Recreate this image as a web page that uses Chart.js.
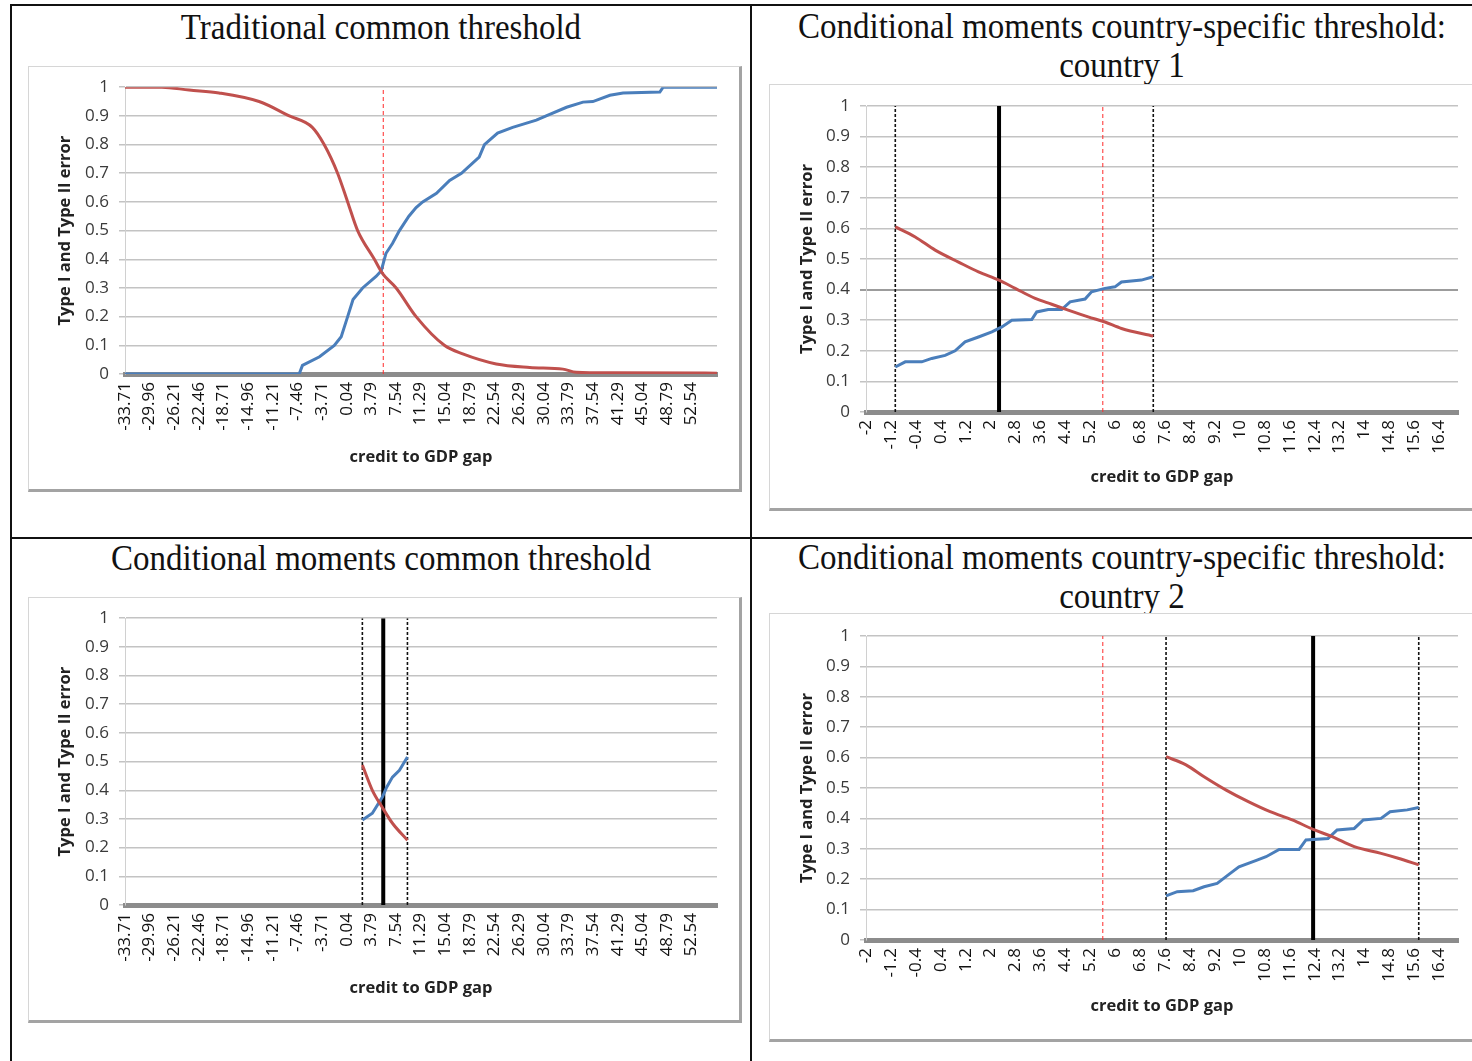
<!DOCTYPE html>
<html>
<head>
<meta charset="utf-8">
<title>Type I and Type II error by threshold</title>
<script src="https://cdn.jsdelivr.net/npm/chart.js@4.4.1/dist/chart.umd.min.js"></script>
<style>
  html, body { margin: 0; padding: 0; background: #fff; }
  body { width: 1472px; height: 1061px; position: relative; overflow: hidden; }
  .rule { position: absolute; background: #111; }
  .title {
    position: absolute; font-family: "Liberation Serif", "Times New Roman", serif;
    font-size: 33px; line-height: 36px; color: #111; text-align: center; white-space: nowrap;
    transform: scale(1, 1.08); transform-origin: 50% 50%;
  }
  .box {
    position: absolute; background: #fff;
    border-left: 1px solid #d6d6d6; border-top: 1px solid #d6d6d6;
    border-right: 3px solid #a3a3a3; border-bottom: 3px solid #a3a3a3;
  }
  .box canvas { display: block; }
</style>
</head>
<body>
  <div class="rule" style="left:10px;top:4px;width:1462px;height:2px"></div>
  <div class="rule" style="left:10px;top:4px;width:2px;height:1057px"></div>
  <div class="rule" style="left:750px;top:4px;width:2px;height:1057px"></div>
  <div class="rule" style="left:10px;top:537px;width:1462px;height:2px"></div>

  <div class="title" style="left:81px;top:9px;width:600px">Traditional common threshold</div>
  <div class="title" style="left:722px;top:10px;width:800px">Conditional moments country-specific threshold:<br>country 1</div>
  <div class="title" style="left:81px;top:540px;width:600px">Conditional moments common threshold</div>
  <div class="title" style="left:722px;top:541px;width:800px">Conditional moments country-specific threshold:<br>country 2</div>

  <div class="box" style="left:28px;top:66px;width:710px;height:422px"><canvas id="trad" width="710" height="422"></canvas></div>
  <div class="box" style="left:769px;top:84px;width:710px;height:423px"><canvas id="country1" width="710" height="423"></canvas></div>
  <div class="box" style="left:28px;top:597px;width:710px;height:422px"><canvas id="common" width="710" height="422"></canvas></div>
  <div class="box" style="left:769px;top:613px;width:710px;height:425px"><canvas id="country2" width="710" height="425"></canvas></div>

<script>
// x tick labels (credit to GDP gap)
const commonTicks = [-33.71, -29.96, -26.21, -22.46, -18.71, -14.96, -11.21, -7.46, -3.71, 0.04, 3.79, 7.54,
  11.29, 15.04, 18.79, 22.54, 26.29, 30.04, 33.79, 37.54, 41.29, 45.04, 48.79, 52.54];
const countryTicks = [-2, -1.2, -0.4, 0.4, 1.2, 2, 2.8, 3.6, 4.4, 5.2, 6, 6.8, 7.6, 8.4, 9.2, 10,
  10.8, 11.6, 12.4, 13.2, 14, 14.8, 15.6, 16.4];
const errorTicks = [0, 0.1, 0.2, 0.3, 0.4, 0.5, 0.6, 0.7, 0.8, 0.9, 1];

// traditional common threshold
const tradRedGap = [-33.71, -28.1, -23.95, -19.4, -13.3, -8.7, -5.2, -3.4, -1.35, 0.18, 1.7, 4.25, 5.5,
  7.56, 10.6, 14.9, 17.7, 22.8, 27.9, 32.95, 35.0, 40.5, 56.4];
const tradRedVal = [1.0, 1.0, 0.99, 0.98, 0.95, 0.9, 0.86, 0.8, 0.7, 0.6, 0.5, 0.4, 0.35,
  0.3, 0.2, 0.1, 0.07, 0.035, 0.023, 0.017, 0.006, 0.004, 0.003];
const tradBlueGap = [-33.71, -7.2, -6.7, -4.1, -1.85, -0.8, 0.18, 1.0, 2.46, 4.5, 5.3, 6.0, 7.0, 8.06,
  9.5, 10.6, 11.6, 13.7, 15.7, 17.5, 20.2, 21.0, 23.0, 25.3, 28.9, 30.4, 33.5, 36.0, 37.5, 40.1,
  42.1, 47.7, 48.2, 56.4];
const tradBlueVal = [0, 0, 0.03, 0.06, 0.1, 0.13, 0.2, 0.26, 0.3, 0.34, 0.36, 0.42, 0.455, 0.5,
  0.55, 0.58, 0.6, 0.63, 0.675, 0.7, 0.756, 0.8, 0.84, 0.86, 0.885, 0.9, 0.93, 0.948, 0.95, 0.972,
  0.98, 0.983, 1.0, 1.0];
const tradCut = 5.6;

// conditional moments common threshold
const commonRedGap = [2.42, 3.94, 5.47, 7.0, 9.28];
const commonRedVal = [0.488, 0.40, 0.34, 0.285, 0.226];
const commonBlueGap = [2.42, 3.94, 5.47, 6.1, 7.0, 8.06, 9.28];
const commonBlueVal = [0.296, 0.32, 0.376, 0.41, 0.446, 0.47, 0.516];
const commonBand = [2.42, 9.28];
const commonCut = 5.6;

// country 1
const c1RedGap = [-1.06, -0.42, 0.22, 0.97, 1.61, 2.27, 2.79, 3.43, 3.96, 4.49, 5.13, 5.67, 6.2, 7.22];
const c1RedVal = [0.605, 0.572, 0.529, 0.49, 0.458, 0.431, 0.404, 0.371, 0.352, 0.333, 0.311, 0.294, 0.273, 0.248];
const c1BlueGap = [-1.06, -0.74, -0.21, 0.11, 0.54, 0.86, 1.18, 1.61, 2.04, 2.36, 2.68, 3.32, 3.48,
  3.85, 4.28, 4.55, 5.03, 5.24, 5.67, 5.99, 6.2, 6.84, 7.22];
const c1BlueVal = [0.147, 0.164, 0.164, 0.175, 0.185, 0.2, 0.229, 0.245, 0.262, 0.278, 0.30, 0.302, 0.327,
  0.335, 0.335, 0.36, 0.369, 0.393, 0.404, 0.409, 0.425, 0.431, 0.442];
const c1Band = [-1.06, 7.22];
const c1Cut = 2.27;

// country 2
const c2RedGap = [7.63, 8.27, 8.85, 9.56, 10.27, 10.97, 11.68, 12.35, 12.96, 13.67, 14.53, 15.08, 15.74];
const c2RedVal = [0.603, 0.576, 0.537, 0.493, 0.455, 0.422, 0.395, 0.364, 0.34, 0.307, 0.285, 0.269, 0.247];
const c2BlueGap = [7.63, 7.99, 8.5, 8.85, 9.27, 9.69, 9.97, 10.55, 10.84, 11.26, 11.9, 12.12, 12.83,
  13.12, 13.67, 13.96, 14.53, 14.82, 15.37, 15.74];
const c2BlueVal = [0.145, 0.159, 0.162, 0.175, 0.186, 0.219, 0.241, 0.263, 0.274, 0.298, 0.298, 0.329, 0.334,
  0.362, 0.367, 0.395, 0.40, 0.422, 0.428, 0.436];
const c2Band = [7.63, 15.74];
const c2Cut = 12.35;

const RED = "#c0504d";
const BLUE = "#4a7ebb";
const FONT = "'Open Sans', sans-serif";
const TITLE_SIZE = 16.5;

const points = (gap, val) => gap.map((g, i) => ({ x: g, y: val[i] }));
const vline = (at) => [{ x: at, y: 0 }, { x: at, y: 1 }];

const curve = (gap, val, color, smooth) => ({
  data: points(gap, val), borderColor: color, borderWidth: 3, pointRadius: 0,
  cubicInterpolationMode: smooth ? "monotone" : "default", tension: smooth ? 0.4 : 0
});
const marker = (at, kind) => {
  const styles = {
    band: { borderColor: "#111", borderWidth: 1.6, borderDash: [3, 2] },
    cut: { borderColor: "#000", borderWidth: 4, borderDash: [] },
    trad: { borderColor: "#ff2a2a", borderWidth: 1, borderDash: [4, 3] }
  };
  return { data: vline(at), pointRadius: 0, borderCapStyle: "butt", ...styles[kind] };
};

const isDark = (darkLine, c) => darkLine && c.tick && Math.abs(c.tick.value - 0.4) < 1e-6;

// box: [left, top] of the chart frame; plot: [left, top, right, bottom] in page pixels
const drawPanel = (id, geom, xTicks, xMin, xMax, datasets, darkLine) => {
  const canvas = document.getElementById(id);
  const cx0 = geom.box[0] + 1;
  const cy0 = geom.box[1] + 1;
  const [pl, pt, pr, pb] = geom.plot;
  const lh = TITLE_SIZE * 1.2;
  const padLeft = geom.yTitleX - cx0 - lh / 2;
  const yWidth = pl - cx0 - padLeft;
  const xHeight = geom.xTitleY + lh / 2 - pb;

  new Chart(canvas, {
    type: "line",
    data: { datasets },
    options: {
      responsive: false,
      animation: false,
      events: [],
      layout: {
        padding: {
          left: padLeft,
          top: pt - cy0,
          right: cx0 + canvas.width - pr,
          bottom: cy0 + canvas.height - pb - xHeight
        }
      },
      plugins: { legend: { display: false }, tooltip: { enabled: false } },
      scales: {
        x: {
          type: "linear",
          min: xMin,
          max: xMax,
          afterBuildTicks: (s) => { s.ticks = xTicks.map(v => ({ value: v })); },
          afterFit: (s) => { s.height = xHeight; },
          grid: { drawOnChartArea: false, drawTicks: false },
          border: { color: "#8c8c8c", width: 5 },
          ticks: {
            autoSkip: false, minRotation: 90, maxRotation: 90, padding: 8,
            color: "#111", font: { family: FONT, size: 17 },
            callback: (v) => String(v)
          },
          title: {
            display: true, text: "credit to GDP gap", color: "#222", padding: 0,
            font: { family: FONT, size: TITLE_SIZE, weight: "bold" }
          }
        },
        y: {
          min: 0,
          max: 1,
          afterBuildTicks: (s) => { s.ticks = errorTicks.map(v => ({ value: v })); },
          afterFit: (s) => { s.width = yWidth; },
          grid: {
            color: (c) => isDark(darkLine, c) ? "#9c9c9c" : "#c3c3c3",
            lineWidth: (c) => isDark(darkLine, c) ? 2 : 1.5,
            tickLength: 6
          },
          border: { color: "#d0d0d0", width: 1 },
          ticks: {
            padding: 10, color: "#3a3a3a", font: { family: FONT, size: 17 },
            callback: (v) => (v === 0 || v === 1) ? String(v) : v.toFixed(1)
          },
          title: {
            display: true, text: "Type I and Type II error", color: "#222", padding: 0,
            font: { family: FONT, size: TITLE_SIZE, weight: "bold" }
          }
        }
      }
    }
  });
};

const init = () => {
  drawPanel("trad",
    { box: [28, 66], plot: [125, 87, 717, 374], yTitleX: 65, xTitleY: 457 },
    commonTicks, -33.71, 56.4,
    [
      curve(tradRedGap, tradRedVal, RED, true),
      curve(tradBlueGap, tradBlueVal, BLUE, false),
      marker(tradCut, "trad")
    ], false);

  drawPanel("country1",
    { box: [769, 84], plot: [866, 106, 1458, 412], yTitleX: 807, xTitleY: 477 },
    countryTicks, -2, 17,
    [
      curve(c1RedGap, c1RedVal, RED, true),
      curve(c1BlueGap, c1BlueVal, BLUE, false),
      marker(c1Band[0], "band"),
      marker(c1Band[1], "band"),
      marker(c1Cut, "cut"),
      marker(tradCut, "trad")
    ], true);

  drawPanel("common",
    { box: [28, 597], plot: [125, 618, 717, 905], yTitleX: 65, xTitleY: 988 },
    commonTicks, -33.71, 56.4,
    [
      curve(commonRedGap, commonRedVal, RED, true),
      curve(commonBlueGap, commonBlueVal, BLUE, false),
      marker(commonBand[0], "band"),
      marker(commonBand[1], "band"),
      marker(commonCut, "cut")
    ], false);

  drawPanel("country2",
    { box: [769, 613], plot: [866, 636, 1458, 940], yTitleX: 807, xTitleY: 1006 },
    countryTicks, -2, 17,
    [
      curve(c2RedGap, c2RedVal, RED, true),
      curve(c2BlueGap, c2BlueVal, BLUE, false),
      marker(c2Band[0], "band"),
      marker(c2Band[1], "band"),
      marker(c2Cut, "cut"),
      marker(tradCut, "trad")
    ], false);
};

if (document.readyState === "loading") {
  document.addEventListener("DOMContentLoaded", init);
} else {
  init();
}
</script>
</body>
</html>
